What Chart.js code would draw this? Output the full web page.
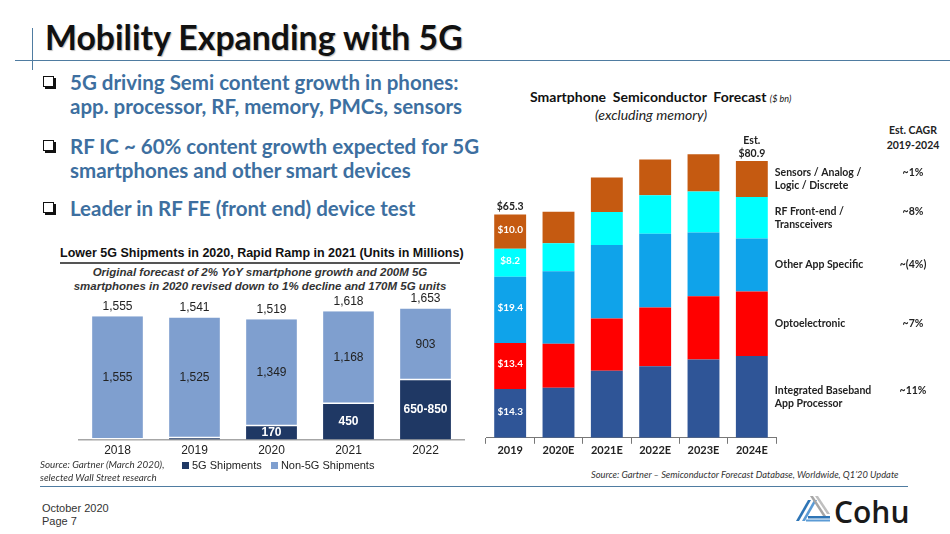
<!DOCTYPE html>
<html>
<head>
<meta charset="utf-8">
<script src="https://cdn.jsdelivr.net/npm/chart.js@4.4.1/dist/chart.umd.min.js"></script>
<style>
  html, body { margin: 0; padding: 0; background: #fff; }
  body { width: 950px; height: 534px; position: relative; overflow: hidden; font-family: Lato, sans-serif; }
  .abs { position: absolute; white-space: nowrap; }
  #title { left: 45px; top: 17px; font-size: 33.8px; font-weight: 700; color: #111; text-shadow: 1px 1px 1px rgba(0,0,0,0.25); line-height: 40px; }
  #vline { left: 32px; top: 28px; width: 1px; height: 42px; background: #4f7ca1; }
  #hline { left: 15px; top: 60px; width: 935px; height: 1px; background: #4f7ca1; }
  .bul { left: 70px; font-size: 20.5px; font-weight: 700; color: #3d6fa0; line-height: 24px; }
  .box { position: absolute; left: 43px; width: 9px; height: 9px; border: 1.5px solid #111; box-shadow: 2px 2px 0 #111; background: #fff; }
  #ltitle { left: 60px; top: 246px; width: 400px; text-align: center; font: bold 12.5px "Liberation Sans", Arial, sans-serif; color: #111; }
  #lrule { left: 60px; top: 262px; width: 400px; height: 2px; background: #555; }
  #lsub { left: 60px; top: 265px; width: 400px; text-align: center; font: italic bold 11.5px "Liberation Sans", Arial, sans-serif; color: #333; line-height: 14px; }
  #lsrc { left: 40px; top: 458px; font: italic 9.8px Lato, sans-serif; color: #333; line-height: 13px; }
  #lleg { left: 182px; top: 459px; font: 11px "Liberation Sans", Arial, sans-serif; color: #222; }
  #lleg span.sw { display: inline-block; width: 7px; height: 7px; margin-right: 3px; }
  #rtitle { left: 530px; top: 88px; font-size: 14px; font-weight: 700; color: #111; }
  #rtitle i { font-size: 9px; font-weight: 400; }
  #rsub { left: 595px; top: 106px; font-size: 14px; font-style: italic; color: #222; }
  #cagr { left: 878px; top: 123px; width: 70px; text-align: center; font-size: 10.5px; font-weight: 700; color: #222; line-height: 15px; }
  #rsrc { left: 591px; top: 469px; font-size: 9.3px; font-style: italic; color: #333; }
  #fline { left: 40px; top: 486px; width: 868px; height: 1px; background: #4f7ca1; }
  #foot { left: 42px; top: 502px; font: 11px "Liberation Sans", Arial, sans-serif; color: #333; line-height: 13px; }
  #logo { left: 796px; top: 494px; }
  #logotext { left: 834px; top: 491px; font-family: "Open Sans", sans-serif; font-size: 30px; font-weight: 600; color: #1a1a1a; }
  canvas { position: absolute; }
</style>
</head>
<body>
<div id="title" class="abs">Mobility Expanding with 5G</div>
<div id="vline" class="abs"></div>
<div id="hline" class="abs"></div>

<div class="box" style="top:76px"></div>
<div class="abs bul" style="top:70px">5G driving Semi content growth in phones:<br>app. processor, RF, memory, PMCs, sensors</div>
<div class="box" style="top:140px"></div>
<div class="abs bul" style="top:134px">RF IC ~ 60% content growth expected for 5G<br>smartphones and other smart devices</div>
<div class="box" style="top:202px"></div>
<div class="abs bul" style="top:196px">Leader in RF FE (front end) device test</div>

<div id="ltitle" class="abs">Lower 5G Shipments in 2020, Rapid Ramp in 2021 (Units in Millions)</div>
<div id="lrule" class="abs"></div>
<div id="lsub" class="abs">Original forecast of 2% YoY smartphone growth and 200M 5G<br>smartphones in 2020 revised down to 1% decline and 170M 5G units</div>
<canvas id="leftChart" style="left:60px; top:285px;" width="410" height="177"></canvas>
<div id="lsrc" class="abs">Source: Gartner (March 2020),<br>selected Wall Street research</div>
<div id="lleg" class="abs"><span class="sw" style="background:#1f3864"></span>5G Shipments &nbsp;&nbsp;<span class="sw" style="background:#7f9fcf"></span>Non-5G Shipments</div>

<div id="rtitle" class="abs">Smartphone&nbsp; Semiconductor&nbsp; Forecast <i>($ bn)</i></div>
<div id="rsub" class="abs">(excluding memory)</div>
<div id="cagr" class="abs">Est. CAGR<br>2019-2024</div>
<canvas id="rightChart" style="left:480px; top:125px;" width="470" height="336"></canvas>
<div id="rsrc" class="abs">Source: Gartner – Semiconductor Forecast Database, Worldwide, Q1’20 Update</div>

<div id="fline" class="abs"></div>
<div id="foot" class="abs">October 2020<br>Page 7</div>
<svg id="logo" class="abs" width="36" height="28" viewBox="0 0 36 28">
  <polygon points="0,27 12,6 15,6 3,27" fill="#2e75b6"/>
  <polygon points="6,27 18,6 21,6 9,27" fill="#5b9bd5"/>
  <polygon points="14,2 17,2 30,22 27,22" fill="#a6a6a6"/>
  <polygon points="19,2 22,2 34,20 31,20" fill="#bfbfbf"/>
  <rect x="12" y="22" width="22" height="2.5" fill="#2e75b6"/>
  <rect x="10" y="25.5" width="24" height="2" fill="#5b9bd5"/>
</svg>
<div id="logotext" class="abs">Cohu</div>

<script>
// ---- left chart: smartphone units (millions)
const unitYears = ['2018', '2019', '2020', '2021', '2022'];
const units5G = [0, 16, 170, 450, 750];
const unitsNon5G = [1555, 1525, 1349, 1168, 903];
const unitTotals = ['1,555', '1,541', '1,519', '1,618', '1,653'];
const non5GLabels = ['1,555', '1,525', '1,349', '1,168', '903'];
const fiveGLabels = ['', '', '170', '450', '650-850'];

// ---- right chart: smartphone semiconductor forecast ($ bn)
const semiYears = ['2019', '2020E', '2021E', '2022E', '2023E', '2024E'];
const baseband = [14.3, 14.6, 19.6, 20.9, 22.9, 23.9];
const opto = [13.4, 12.9, 15.3, 17.2, 18.5, 18.9];
const otherApp = [19.4, 21.2, 21.5, 21.6, 18.6, 15.5];
const rfFront = [8.2, 8.2, 9.6, 11.2, 12.0, 12.1];
const sensors = [10.0, 9.2, 10.1, 10.5, 10.9, 10.5];
const semiSeries = ['Integrated Baseband\nApp Processor', 'Optoelectronic', 'Other App Specific', 'RF Front-end /\nTransceivers', 'Sensors / Analog /\nLogic / Discrete'];
const semiCagr = ['~11%', '~7%', '~(4%)', '~8%', '~1%'];
const firstYearLabels = ['$14.3', '$13.4', '$19.4', '$8.2', '$10.0'];

Chart.defaults.animation = false;
Chart.defaults.plugins.legend.display = false;
Chart.defaults.plugins.tooltip.enabled = false;

const unitLabels = {
    id: 'unitLabels',
    afterDatasetsDraw(chart) {
        const ctx = chart.ctx;
        const m5 = chart.getDatasetMeta(0);
        const mn = chart.getDatasetMeta(1);
        ctx.save();
        ctx.textAlign = 'center';
        ctx.textBaseline = 'middle';
        mn.data.forEach((bar, i) => {
            ctx.font = '12px "Liberation Sans", Arial, sans-serif';
            ctx.fillStyle = '#222';
            ctx.fillText(unitTotals[i], bar.x, bar.y - 10);
            ctx.fillText(non5GLabels[i], bar.x, (bar.y + bar.base) / 2);
            const b5 = m5.data[i];
            if (fiveGLabels[i]) {
                ctx.font = 'bold 12px "Liberation Sans", Arial, sans-serif';
                ctx.fillStyle = '#fff';
                ctx.fillText(fiveGLabels[i], b5.x, (b5.y + b5.base) / 2);
            }
        });
        ctx.restore();
    }
};

new Chart(document.getElementById('leftChart'), {
    type: 'bar',
    data: {
        labels: unitYears,
        datasets: [
            { label: '5G Shipments', data: units5G, backgroundColor: '#1f3864' },
            { label: 'Non-5G Shipments', data: unitsNon5G, backgroundColor: '#7f9fcf',
              borderColor: '#ffffff', borderWidth: { top: 0, left: 0, right: 0, bottom: 1.5 }, borderSkipped: false }
        ]
    },
    options: {
        responsive: false,
        layout: { padding: { left: 19, right: 6, top: 4, bottom: 0 } },
        datasets: { bar: { barPercentage: 0.66, categoryPercentage: 1 } },
        scales: {
            x: {
                stacked: true,
                grid: { display: false, drawTicks: false },
                border: { display: true, color: '#a6a6a6', width: 1.5 },
                ticks: { color: '#222', font: { family: '"Liberation Sans", Arial, sans-serif', size: 12 }, padding: 4 }
            },
            y: { stacked: true, display: false, min: 0, max: 1900 }
        }
    },
    plugins: [unitLabels]
});

const semiLabels = {
    id: 'semiLabels',
    afterDatasetsDraw(chart) {
        const ctx = chart.ctx;
        const lastIdx = semiYears.length - 1;
        ctx.save();
        ctx.textBaseline = 'middle';
        chart.data.datasets.forEach((ds, d) => {
            const meta = chart.getDatasetMeta(d);
            // values inside the first bar
            const b0 = meta.data[0];
            ctx.textAlign = 'center';
            ctx.font = 'bold 10px Lato, sans-serif';
            ctx.fillStyle = '#fff';
            ctx.fillText(firstYearLabels[d], b0.x, (b0.y + b0.base) / 2 - 2);
            // series names right of the last bar
            const bl = meta.data[lastIdx];
            const mid = (bl.y + bl.base) / 2;
            const lines = semiSeries[d].split('\n');
            ctx.textAlign = 'left';
            ctx.font = 'bold 10.5px Lato, sans-serif';
            ctx.fillStyle = '#222';
            const off = (lines.length - 1) * 6.5;
            lines.forEach((ln, k) => ctx.fillText(ln, bl.x + bl.width / 2 + 7, mid - off + k * 13));
            ctx.textAlign = 'center';
            ctx.fillText(semiCagr[d], 433, mid - off);
        });
        // totals above first and last bars
        const top = chart.getDatasetMeta(chart.data.datasets.length - 1);
        const total = (i) => chart.data.datasets.reduce((s, ds) => s + ds.data[i], 0);
        ctx.textAlign = 'center';
        ctx.font = 'bold 10.5px Lato, sans-serif';
        ctx.fillStyle = '#222';
        ctx.fillText('$' + total(0).toFixed(1), top.data[0].x, top.data[0].y - 8);
        ctx.fillText('$' + total(lastIdx).toFixed(1), top.data[lastIdx].x, top.data[lastIdx].y - 8);
        ctx.fillText('Est.', top.data[lastIdx].x, top.data[lastIdx].y - 21);
        ctx.restore();
    }
};

new Chart(document.getElementById('rightChart'), {
    type: 'bar',
    data: {
        labels: semiYears,
        datasets: [
            { label: semiSeries[0], data: baseband, backgroundColor: '#2f5597' },
            { label: semiSeries[1], data: opto, backgroundColor: '#ff0000' },
            { label: semiSeries[2], data: otherApp, backgroundColor: '#0fa3ea' },
            { label: semiSeries[3], data: rfFront, backgroundColor: '#00ffff' },
            { label: semiSeries[4], data: sensors, backgroundColor: '#c55a11' }
        ]
    },
    options: {
        responsive: false,
        layout: { padding: { left: 6, right: 174, top: 5, bottom: 4 } },
        datasets: { bar: { barPercentage: 0.66, categoryPercentage: 1 } },
        scales: {
            x: {
                stacked: true,
                grid: { drawOnChartArea: false, drawTicks: true, tickLength: 6, color: '#777', offset: true },
                border: { display: true, color: '#777', width: 1 },
                ticks: { color: '#222', font: { family: 'Lato, sans-serif', size: 11, weight: 'bold' }, padding: 0 }
            },
            y: { stacked: true, display: false, min: 0, max: 90 }
        }
    },
    plugins: [semiLabels]
});
</script>
</body>
</html>
